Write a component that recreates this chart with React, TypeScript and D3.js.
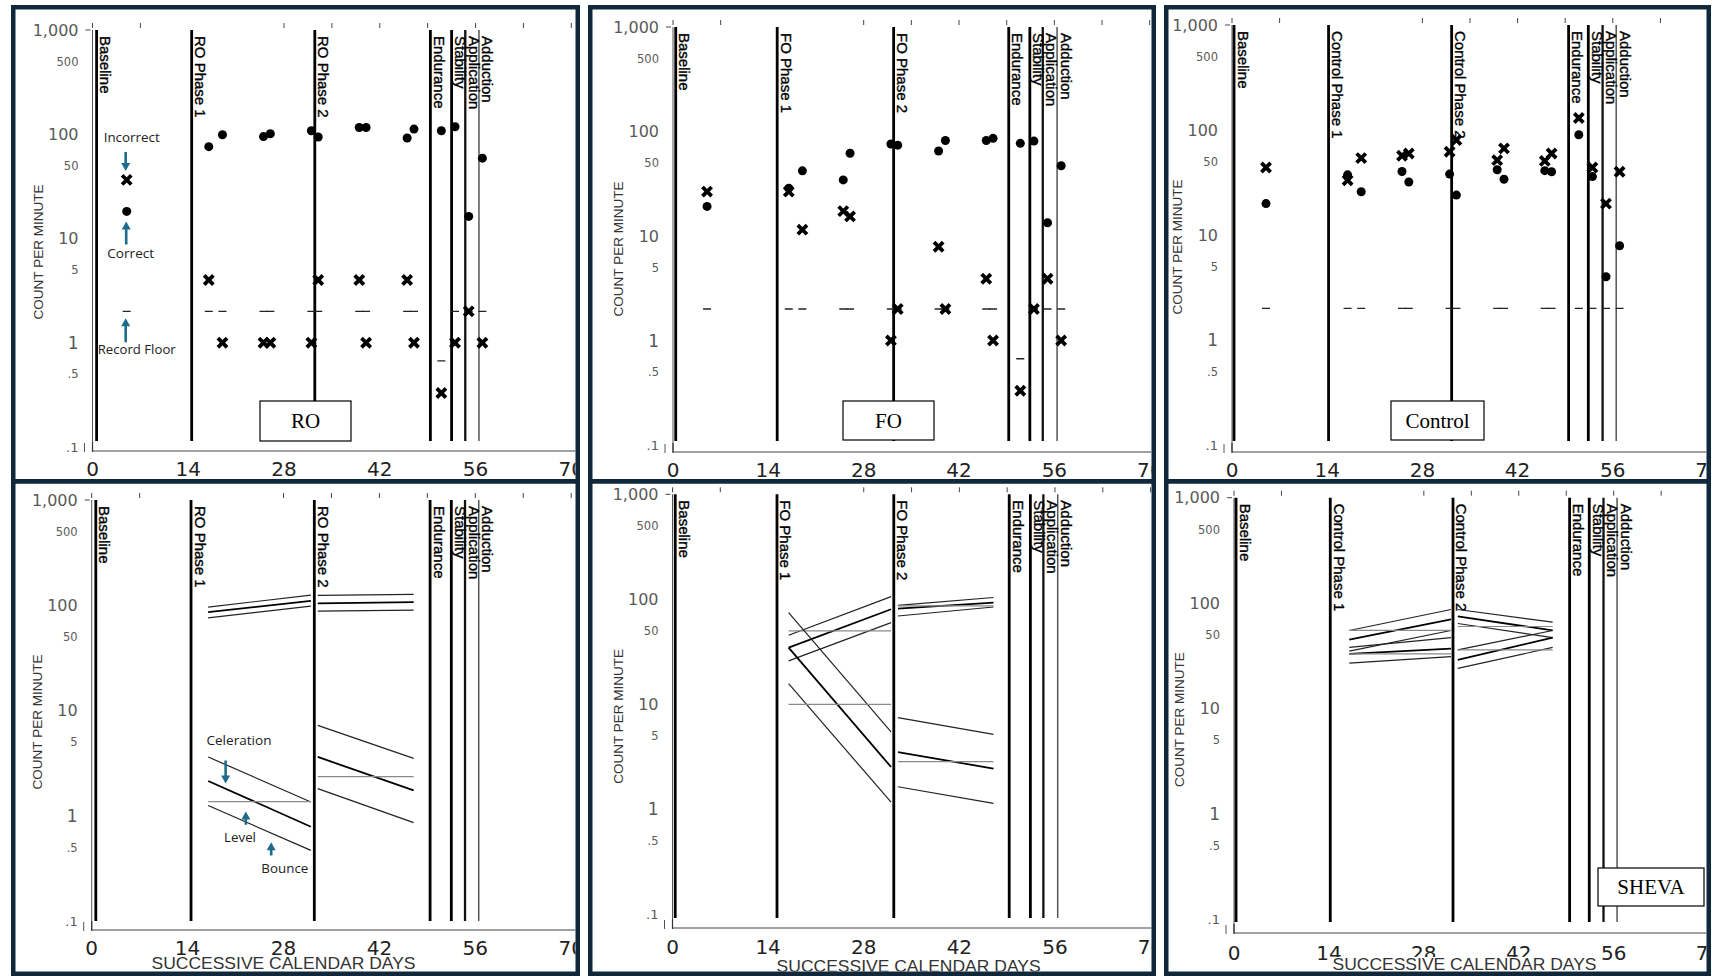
import React from "react";
import * as d3 from "d3";

// ------------------------------------------------------------------ data
const SESSION_DAYS = [5, 17, 19, 25, 26, 32, 33, 39, 40, 46, 47, 51, 53, 55, 57];

const RO_CORRECT = [18.2, 76, 99, 95, 101, 108, 94, 116, 116, 92, 112, 108, 118, 16.3, 59];
const RO_INCORRECT = [36.5, 4, 1, 1, 1, 1, 4, 4, 1, 4, 1, 0.33, 1, 2, 1];
const RO_FLOOR = [2, 2, 2, 2, 2, 2, 2, 2, 2, 2, 2, 0.67, 2, 2, 2];

const FO_CORRECT = [19.2, 28.7, 42, 34.4, 62, 76, 74, 65, 82, 82, 86, 77, 81, 13.4, 47];
const FO_INCORRECT = [26.6, 26.6, 11.5, 17.3, 15.4, 1, 2, 7.9, 2, 3.9, 1, 0.33, 2, 3.9, 1];
const FO_FLOOR = [2, 2, 2, 2, 2, 2, 2, 2, 2, 2, 2, 0.67, 2, 2, 2];

const CONTROL_CORRECT = [19.9, 37.4, 25.8, 40.2, 32, 38, 24, 41.8, 34, 41, 40, 90, 36, 4, 7.9];
const CONTROL_INCORRECT = [44, 33.2, 54, 56.9, 59.8, 62, 80.4, 51.6, 66.8, 50.8, 59.8, 130, 44, 19.9, 40];
const CONTROL_FLOOR = [2, 2, 2, 2, 2, 2, 2, 2, 2, 2, 2, 2, 2, 2, 2];

const RO_PHASES = ["Baseline", "RO Phase 1", "RO Phase 2", "Endurance", "Stability", "Application", "Adduction"];
const FO_PHASES = ["Baseline", "FO Phase 1", "FO Phase 2", "Endurance", "Stability", "Application", "Adduction"];
const CONTROL_PHASES = ["Baseline", "Control Phase 1", "Control Phase 2", "Endurance", "Stability", "Application", "Adduction"];

const RO_PHASE_DAYS = [0.6, 14.5, 32.5, 49.4, 52.5, 54.5, 56.5];
const FO_PHASE_DAYS = [0.4, 15.3, 32.4, 49.3, 52.4, 54.3, 56.4];
const CONTROL_PHASE_DAYS = [0.3, 14.2, 32.3, 49.5, 52.4, 54.5, 56.5];

// [kind, fromDay, toDay, fromValue, toValue]
type Seg = [string, number, number, number, number];

const RO_LINES: Seg[] = [
  ["bounce", 17, 32, 96, 125],
  ["cel", 17, 32, 86, 110],
  ["bounce", 17, 32, 76, 98],
  ["bounce", 33, 47, 124, 127],
  ["cel", 33, 47, 104, 107],
  ["bounce", 33, 47, 88, 90],
  ["bounce", 17, 32, 3.62, 1.35],
  ["cel", 17, 32, 2.14, 0.787],
  ["bounce", 17, 32, 1.25, 0.469],
  ["level", 17, 32, 1.36, 1.36],
  ["bounce", 33, 47, 7.22, 3.51],
  ["cel", 33, 47, 3.62, 1.74],
  ["bounce", 33, 47, 1.81, 0.86],
  ["level", 33, 47, 2.35, 2.35],
];

const FO_LINES: Seg[] = [
  ["bounce", 17, 32, 45.4, 106],
  ["cel", 17, 32, 34.7, 80.4],
  ["bounce", 17, 32, 25.9, 60],
  ["level", 17, 32, 50, 50],
  ["bounce", 17, 32, 74.7, 5.46],
  ["cel", 17, 32, 34.7, 2.53],
  ["bounce", 17, 32, 15.7, 1.17],
  ["level", 17, 32, 10, 10],
  ["bounce", 33, 47, 87.7, 104],
  ["cel", 33, 47, 81.5, 93],
  ["bounce", 33, 47, 69.3, 84.5],
  ["level", 33, 47, 86.6, 86.6],
  ["bounce", 33, 47, 7.47, 5.18],
  ["cel", 33, 47, 3.51, 2.44],
  ["bounce", 33, 47, 1.64, 1.14],
  ["level", 33, 47, 2.85, 2.85],
];

const CONTROL_LINES: Seg[] = [
  ["bounce", 17, 32, 55, 87],
  ["cel", 17, 32, 45, 70],
  ["bounce", 17, 32, 35, 55],
  ["level", 17, 32, 55, 55],
  ["bounce", 17, 32, 38, 47],
  ["cel", 17, 32, 33, 37],
  ["bounce", 17, 32, 27, 31],
  ["level", 17, 32, 33, 33],
  ["bounce", 33, 47, 87, 66],
  ["cel", 33, 47, 75, 55],
  ["bounce", 33, 47, 64, 47],
  ["level", 33, 47, 60, 60],
  ["bounce", 33, 47, 36, 55],
  ["cel", 33, 47, 29, 47],
  ["bounce", 33, 47, 24, 38],
  ["level", 33, 47, 36, 36],
];

const Y_TICK_VALUES = [1000, 500, 100, 50, 10, 5, 1, 0.5, 0.1];
const Y_TICK_LABELS = ["1,000", "500", "100", "50", "10", "5", "1", ".5", ".1"];
const X_TICK_VALUES = [0, 14, 28, 42, 56, 70];
const X_TICK_LABELS = ["0", "14", "28", "42", "56", "70"];
const TOP_TICK_DAYS = [0, 7, 28, 35, 42, 49, 56, 63, 70];

// ------------------------------------------------------------------ styles
const BORDER = "#10283a";
const ARROW = "#1f6b8c";
const Y_LABEL_SIZE = [16, 11.5, 16, 11.5, 16, 11.5, 17, 11.5, 13];
const PHASE_W = [2.8, 2.8, 2.8, 2.8, 2.8, 2.3, 1.5];
const PHASE_C = ["#000", "#000", "#000", "#000", "#000", "#111", "#555"];

type Cfg = any;

const PANELS: Cfg[] = [
  {
    id: "tl", ox: 11, oy: 5, ow: 569, oh: 479, x0: 92.5, ppd: 6.84, yTop: 30, yBot: 447,
    phaseBottom: 441, axisY: 451, xLabelY: 476, phases: RO_PHASES, phaseDays: RO_PHASE_DAYS,
    correct: RO_CORRECT, incorrect: RO_INCORRECT, floor: RO_FLOOR,
    box: { text: "RO", x: 260, y: 401, w: 91, h: 40 }, annot: "points",
  },
  {
    id: "tm", ox: 588, oy: 5, ow: 568, oh: 479, x0: 673, ppd: 6.81, yTop: 27, yBot: 445,
    phaseBottom: 441, axisY: 452, xLabelY: 477, phases: FO_PHASES, phaseDays: FO_PHASE_DAYS,
    correct: FO_CORRECT, incorrect: FO_INCORRECT, floor: FO_FLOOR,
    box: { text: "FO", x: 843, y: 401, w: 91, h: 39 },
  },
  {
    id: "tr", ox: 1164, oy: 5, ow: 547, oh: 479, x0: 1232, ppd: 6.8, yTop: 25, yBot: 445,
    phaseBottom: 441, axisY: 452, xLabelY: 477, phases: CONTROL_PHASES, phaseDays: CONTROL_PHASE_DAYS,
    correct: CONTROL_CORRECT, incorrect: CONTROL_INCORRECT, floor: CONTROL_FLOOR,
    box: { text: "Control", x: 1391, y: 401, w: 93, h: 39 },
  },
  {
    id: "bl", ox: 11, oy: 479, ow: 569, oh: 497, x0: 91.7, ppd: 6.85, yTop: 500, yBot: 921,
    phaseBottom: 921, axisY: 930, xLabelY: 955, succX: 283.5, succY: 969,
    phases: RO_PHASES, phaseDays: RO_PHASE_DAYS, lines: RO_LINES, annot: "lines",
  },
  {
    id: "bm", ox: 588, oy: 479, ow: 568, oh: 497, x0: 672.5, ppd: 6.83, yTop: 494.3, yBot: 914.3,
    phaseBottom: 918, axisY: 928, xLabelY: 954, succX: 908.6, succY: 972,
    phases: FO_PHASES, phaseDays: FO_PHASE_DAYS, lines: FO_LINES,
  },
  {
    id: "br", ox: 1164, oy: 479, ow: 547, oh: 497, x0: 1234, ppd: 6.78, yTop: 497.7, yBot: 919.3,
    phaseBottom: 922, axisY: 933, xLabelY: 960, succX: 1464.5, succY: 970,
    phases: CONTROL_PHASES, phaseDays: CONTROL_PHASE_DAYS, lines: CONTROL_LINES,
    box: { text: "SHEVA", x: 1598, y: 868, w: 106, h: 38 },
  },
];

function Arrow({ x, tail, tip }: { x: number; tail: number; tip: number }) {
  const dir = tip > tail ? 1 : -1;
  const hl = 8;
  const hw = 4.5;
  return (
    <g>
      <line x1={x} x2={x} y1={tail} y2={tip - dir * (hl - 0.5)} stroke={ARROW} strokeWidth={2.6} />
      <path d={`M${x - hw},${tip - dir * hl}L${x + hw},${tip - dir * hl}L${x},${tip}Z`} fill={ARROW} />
    </g>
  );
}

function XMark({ x, y }: { x: number; y: number }) {
  const s = 4.6;
  return (
    <path
      d={`M${x - s},${y - s}L${x + s},${y + s}M${x + s},${y - s}L${x - s},${y + s}`}
      stroke="#000"
      strokeWidth={3.8}
      fill="none"
    />
  );
}

function Panel({ cfg }: { cfg: Cfg }) {
  const bw = 4.5;
  const xs = d3.scaleLinear().domain([0, 70]).range([cfg.x0, cfg.x0 + 70 * cfg.ppd]);
  const ys = d3.scaleLog().domain([0.1, 1000]).range([cfg.yBot, cfg.yTop]);
  const ix = cfg.ox + bw;
  const iy = cfg.oy + bw;
  const iw = cfg.ow - 2 * bw;
  const ih = cfg.oh - 2 * bw;
  const clipId = `clip-${cfg.id}`;
  const x0 = cfg.x0;

  const sansAx = "'DejaVu Sans', sans-serif";
  const sans = "'Liberation Sans', Arial, sans-serif";
  const annFont = "'Open Sans', sans-serif";

  let annot: React.ReactNode = null;
  if (cfg.annot === "points") {
    const ax = xs(SESSION_DAYS[0]) - 1;
    const yX = ys(cfg.incorrect[0]);
    const yD = ys(cfg.correct[0]);
    const yF = ys(cfg.floor[0]);
    annot = (
      <g fontFamily={annFont} fontSize={12.5} fill="#222">
        <text x={ax + 6} y={yX - 38} textAnchor="middle" textLength={56} lengthAdjust="spacingAndGlyphs">Incorrect</text>
        <Arrow x={ax} tail={yX - 28} tip={yX - 9} />
        <Arrow x={ax + 0.5} tail={yD + 33} tip={yD + 10} />
        <text x={ax + 5} y={yD + 47} textAnchor="middle" textLength={47} lengthAdjust="spacingAndGlyphs">Correct</text>
        <Arrow x={ax} tail={yF + 31} tip={yF + 7} />
        <text x={ax + 11} y={yF + 43} textAnchor="middle" textLength={78} lengthAdjust="spacingAndGlyphs">Record Floor</text>
      </g>
    );
  } else if (cfg.annot === "lines") {
    annot = (
      <g fontFamily={annFont} fontSize={12.5} fill="#222">
        <text x={xs(21.5)} y={ys(4.7)} textAnchor="middle" textLength={65} lengthAdjust="spacingAndGlyphs">Celeration</text>
        <Arrow x={xs(19.55)} tail={ys(3.35)} tip={ys(2.02)} />
        <Arrow x={xs(22.5)} tail={ys(0.82)} tip={ys(1.1)} />
        <text x={xs(21.65)} y={ys(0.56)} textAnchor="middle" textLength={32} lengthAdjust="spacingAndGlyphs">Level</text>
        <Arrow x={xs(26.2)} tail={ys(0.42)} tip={ys(0.56)} />
        <text x={xs(28.2)} y={ys(0.285)} textAnchor="middle" textLength={47} lengthAdjust="spacingAndGlyphs">Bounce</text>
      </g>
    );
  }

  return (
    <g>
      <defs>
        <clipPath id={clipId}>
          <rect x={ix} y={iy} width={iw} height={ih} />
        </clipPath>
      </defs>
      <rect x={ix} y={iy} width={iw} height={ih} fill="#fff" />
      <g clipPath={`url(#${clipId})`}>
        {TOP_TICK_DAYS.map((d) => (
          <line key={`tt${d}`} x1={xs(d)} x2={xs(d)} y1={cfg.yTop - 7} y2={cfg.yTop - 2} stroke="#444" strokeWidth={1} />
        ))}
        <line x1={x0 - 7} x2={x0 - 2} y1={cfg.yTop} y2={cfg.yTop} stroke="#444" strokeWidth={1} />
        <line x1={x0} x2={x0} y1={cfg.yTop} y2={cfg.axisY} stroke="#555" strokeWidth={1} />
        <line x1={x0 - 8} x2={x0 - 8} y1={cfg.axisY - 8} y2={cfg.axisY + 1} stroke="#555" strokeWidth={1} />
        <line x1={x0} x2={x0} y1={cfg.axisY - 9} y2={cfg.axisY + 1} stroke="#333" strokeWidth={1.2} />
        <line x1={x0} x2={ix + iw} y1={cfg.axisY} y2={cfg.axisY} stroke="#444" strokeWidth={1.2} />
        {Y_TICK_VALUES.map((v, i) => (
          <text
            key={`yl${i}`}
            x={x0 - 14}
            y={ys(v)}
            dy="0.36em"
            textAnchor="end"
            fontFamily={sansAx}
            fontSize={Y_LABEL_SIZE[i]}
            fill="#5a5a5a"
          >
            {Y_TICK_LABELS[i]}
          </text>
        ))}
        {X_TICK_VALUES.map((v, i) => (
          <text key={`xl${i}`} x={xs(v)} y={cfg.xLabelY} textAnchor="middle" fontFamily={sansAx} fontSize={20} fill="#222">
            {X_TICK_LABELS[i]}
          </text>
        ))}
        <text
          transform={`translate(${x0 - 50},${cfg.yTop + 222}) rotate(-90)`}
          textAnchor="middle"
          fontFamily={sans}
          fontSize={13.5}
          fill="#333"
        >
          COUNT PER MINUTE
        </text>
        {cfg.phaseDays.map((d: number, i: number) => (
          <line
            key={`pl${i}`}
            x1={xs(d)}
            x2={xs(d)}
            y1={cfg.yTop}
            y2={cfg.phaseBottom}
            stroke={PHASE_C[i]}
            strokeWidth={PHASE_W[i]}
          />
        ))}
        {cfg.phases.map((name: string, i: number) => (
          <text
            key={`pn${i}`}
            transform={`translate(${xs(cfg.phaseDays[i]) + 3.5},${cfg.yTop + 6}) rotate(90)`}
            fontFamily={sans}
            fontSize={15}
            fill="#000"
            stroke="#000"
            strokeWidth={0.35}
          >
            {name}
          </text>
        ))}
        {cfg.correct && (
          <g>
            {SESSION_DAYS.map((d, i) => (
              <line
                key={`fl${i}`}
                x1={xs(d) - 4}
                x2={xs(d) + 4}
                y1={ys(cfg.floor[i])}
                y2={ys(cfg.floor[i])}
                stroke="#222"
                strokeWidth={1.4}
              />
            ))}
            {SESSION_DAYS.map((d, i) => (
              <circle key={`c${i}`} cx={xs(d)} cy={ys(cfg.correct[i])} r={4.5} fill="#000" />
            ))}
            {SESSION_DAYS.map((d, i) => (
              <XMark key={`x${i}`} x={xs(d)} y={ys(cfg.incorrect[i])} />
            ))}
          </g>
        )}
        {cfg.lines && (
          <g>
            {cfg.lines.map((s: Seg, i: number) => (
              <line
                key={`ln${i}`}
                x1={xs(s[1])}
                x2={xs(s[2])}
                y1={ys(s[3])}
                y2={ys(s[4])}
                stroke={s[0] === "level" ? "#8a8a8a" : s[0] === "cel" ? "#000" : "#222"}
                strokeWidth={s[0] === "cel" ? 1.8 : 1.2}
              />
            ))}
          </g>
        )}
        {annot}
        {cfg.box && (
          <g>
            <rect x={cfg.box.x} y={cfg.box.y} width={cfg.box.w} height={cfg.box.h} fill="#fff" stroke="#000" strokeWidth={1.2} />
            <text
              x={cfg.box.x + cfg.box.w / 2}
              y={cfg.box.y + cfg.box.h / 2}
              dy="0.35em"
              textAnchor="middle"
              fontFamily="'Liberation Serif', 'Times New Roman', serif"
              fontSize={21}
              fill="#000"
            >
              {cfg.box.text}
            </text>
          </g>
        )}
        {cfg.succX && (
          <g>
            <rect x={cfg.succX - 134} y={cfg.succY - 13} width={268} height={15} fill="#fff" />
            <text
              x={cfg.succX - 132}
              y={cfg.succY}
              fontFamily={sans}
              fontSize={16.5}
              fill="#333"
              textLength={264}
              lengthAdjust="spacingAndGlyphs"
            >
              SUCCESSIVE CALENDAR DAYS
            </text>
          </g>
        )}
      </g>
      <rect
        x={cfg.ox + bw / 2}
        y={cfg.oy + bw / 2}
        width={cfg.ow - bw}
        height={cfg.oh - bw}
        fill="none"
        stroke={BORDER}
        strokeWidth={bw}
      />
    </g>
  );
}

export default function App() {
  return (
    <div style={{ position: "absolute", left: 0, top: 0, width: 1712, height: 976, background: "#fff" }}>
      <svg width={1712} height={976} viewBox="0 0 1712 976" style={{ display: "block" }}>
        <rect x={0} y={0} width={1712} height={976} fill="#fff" />
        {PANELS.map((p) => (
          <Panel key={p.id} cfg={p} />
        ))}
      </svg>
    </div>
  );
}
